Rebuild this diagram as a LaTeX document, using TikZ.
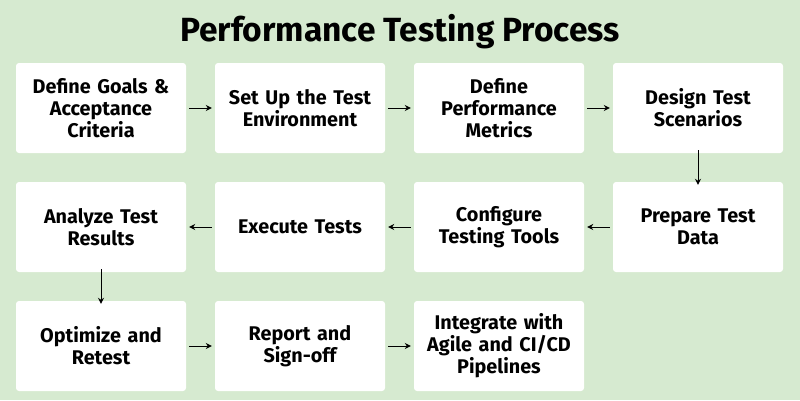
\documentclass[tikz,border=0pt]{standalone}
\usepackage{fontspec}
\setmainfont{Fira Sans}
\usetikzlibrary{arrows.meta}
\definecolor{bg}{RGB}{214,234,208}
\begin{document}
\begin{tikzpicture}[x=1pt,y=-1pt,
  box/.style={fill=white,rounded corners=3pt,minimum width=170pt,minimum height=90pt,align=center,font=\fontsize{19.8}{22}\selectfont\bfseries,text width=168pt,inner sep=0pt},
  arr/.style={-{Stealth[length=6pt,width=6pt]},line width=1pt}]
\fill[bg] (0,0) rectangle (800,400);
\useasboundingbox (0,0) rectangle (800,400);
\node[font=\fontsize{33.5}{36}\selectfont\bfseries] (t) at (400,32) {Performance Testing Process};
\node[box] (a) at (101,108) {Define Goals \&\\Acceptance\\Criteria};
\node[box] (b) at (300,108) {Set Up the Test\\Environment};
\node[box] (c) at (499,108) {Define\\Performance\\Metrics};
\node[box] (d) at (698,108) {Design Test\\Scenarios};
\node[box] (e) at (698,227) {Prepare Test\\Data};
\node[box] (f) at (499,227) {Configure\\Testing Tools};
\node[box] (g) at (300,227) {Execute Tests};
\node[box] (h) at (101,227) {Analyze Test\\Results};
\node[box] (i) at (101,346) {Optimize and\\Retest};
\node[box] (j) at (300,346) {Report and\\Sign-off};
\node[box] (k) at (499,346) {Integrate with\\Agile and CI/CD\\Pipelines};
\draw[arr] ([xshift=3pt]a.east) -- ([xshift=-3pt]b.west);
\draw[arr] ([xshift=3pt]b.east) -- ([xshift=-3pt]c.west);
\draw[arr] ([xshift=3pt]c.east) -- ([xshift=-3pt]d.west);
\draw[arr] ([yshift=3pt]d.south) -- ([yshift=-3pt]e.north);
\draw[arr] ([xshift=-3pt]e.west) -- ([xshift=3pt]f.east);
\draw[arr] ([xshift=-3pt]f.west) -- ([xshift=3pt]g.east);
\draw[arr] ([xshift=-3pt]g.west) -- ([xshift=3pt]h.east);
\draw[arr] ([yshift=3pt]h.south) -- ([yshift=-3pt]i.north);
\draw[arr] ([xshift=3pt]i.east) -- ([xshift=-3pt]j.west);
\draw[arr] ([xshift=3pt]j.east) -- ([xshift=-3pt]k.west);
\end{tikzpicture}
\end{document}
